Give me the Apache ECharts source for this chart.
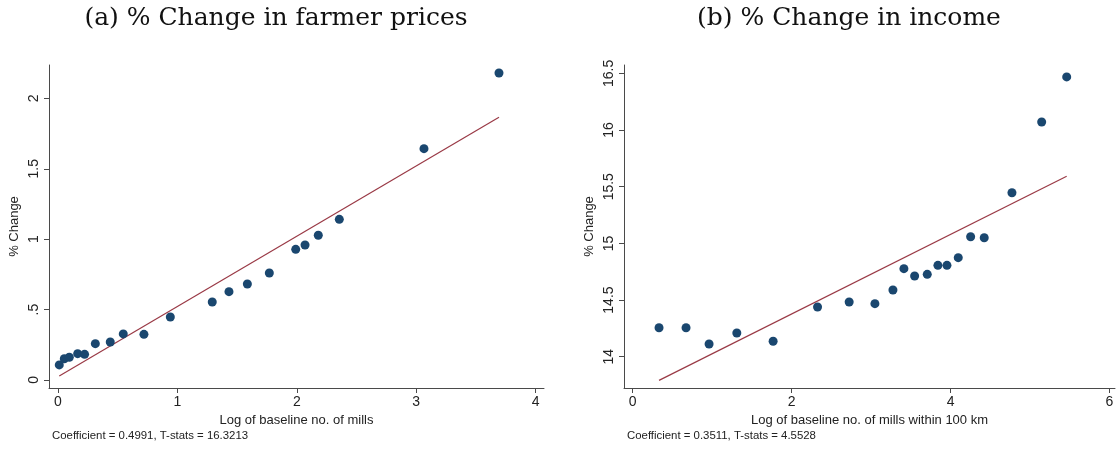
<!DOCTYPE html>
<html>
<head>
<meta charset="utf-8">
<script src="https://cdn.jsdelivr.net/npm/echarts@6/dist/echarts.min.js"></script>
<style>
  html, body { margin: 0; padding: 0; background: #fff; }
  #chart { width: 1117px; height: 451px; }
</style>
</head>
<body>
<div id="chart"></div>
<script>
// Panel (a): binned log of baseline mills vs % change in farmer prices
const pricesX = [0.011, 0.053, 0.095, 0.165, 0.223, 0.313, 0.438, 0.547, 0.720, 0.941,
                 1.292, 1.432, 1.586, 1.770, 1.991, 2.069, 2.180, 2.356, 3.065, 3.693];
const pricesY = [0.107, 0.151, 0.161, 0.187, 0.182, 0.258, 0.270, 0.327, 0.324, 0.447,
                 0.554, 0.627, 0.682, 0.760, 0.928, 0.959, 1.028, 1.141, 1.643, 2.180];
const pricesCoef = 0.4991;
const pricesTstat = 16.3213;
const pricesIntercept = 0.023;

// Panel (b): binned log of mills within 100 km vs % change in income
const incomeX = [0.331, 0.671, 0.961, 1.310, 1.767, 2.326, 2.724, 3.048, 3.275, 3.413,
                 3.548, 3.707, 3.841, 3.955, 4.097, 4.253, 4.424, 4.773, 5.147, 5.462];
const incomeY = [14.256, 14.256, 14.112, 14.209, 14.136, 14.439, 14.483, 14.468, 14.589, 14.777,
                 14.712, 14.727, 14.806, 14.806, 14.874, 15.059, 15.050, 15.447, 16.071, 16.469];
const incomeCoef = 0.3511;
const incomeTstat = 4.5528;
const incomeIntercept = 13.675;

// Tick positions
const pricesXTicks = [0, 1, 2, 3, 4];
const pricesYTicks = [0, 0.5, 1, 1.5, 2];
const incomeXTicks = [0, 2, 4, 6];
const incomeYTicks = [14, 14.5, 15, 15.5, 16, 16.5];

const titles = ['(a) % Change in farmer prices', '(b) % Change in income'];
const xTitles = ['Log of baseline no. of mills', 'Log of baseline no. of mills within 100 km'];
const yTitle = '% Change';

const navy = '#1a476f';
const maroon = '#9a3a46';
const axisColor = '#4a4a4a';
const textColor = '#222';

function zip(xs, ys) { return xs.map((x, i) => [x, ys[i]]); }
function fitLine(xs, a, b) {
  const lo = Math.min(...xs), hi = Math.max(...xs);
  return [[lo, a + b * lo], [hi, a + b * hi]];
}
// Stata-style labels: drop the leading zero (".5")
function stataNum(v) {
  let s = String(Math.round(v * 1000) / 1000);
  if (s.startsWith('0.')) s = s.slice(1);
  return s;
}

const chart = echarts.init(document.getElementById('chart'), null, { renderer: 'canvas' });

function xAxisDef(gridIndex, min, max, ticks, name) {
  return {
    type: 'value', gridIndex, min, max,
    name, nameLocation: 'middle', nameGap: 25,
    nameTextStyle: { fontFamily: 'Liberation Sans', fontSize: 13, color: textColor },
    axisLine: { onZero: false, lineStyle: { color: axisColor, width: 1 } },
    axisTick: { customValues: ticks, length: 5, lineStyle: { color: axisColor } },
    axisLabel: { customValues: ticks, formatter: stataNum, fontFamily: 'Liberation Sans',
                 fontSize: 14, color: textColor, margin: 7 },
    splitLine: { show: false }
  };
}
function yAxisDef(gridIndex, min, max, ticks) {
  return {
    type: 'value', gridIndex, min, max,
    name: yTitle, nameLocation: 'middle', nameGap: 28, nameRotate: 90,
    nameTextStyle: { fontFamily: 'Liberation Sans', fontSize: 13, color: textColor },
    axisLine: { show: true, onZero: false, lineStyle: { color: axisColor, width: 1 } },
    axisTick: { show: true, customValues: ticks, length: 5, lineStyle: { color: axisColor } },
    axisLabel: { customValues: ticks, formatter: stataNum, rotate: 90, fontFamily: 'Liberation Sans',
                 fontSize: 14, color: textColor, margin: 8 },
    splitLine: { show: false }
  };
}

const titleStyle = { fontFamily: 'DejaVu Serif', fontSize: 25, fontWeight: 'normal', color: '#111' };
const noteStyle = { fontFamily: 'Liberation Sans', fontSize: 11.4, fontWeight: 'normal', color: textColor };

chart.setOption({
  animation: false,
  backgroundColor: '#fff',
  title: [
    { text: titles[0], left: 276, top: 6, textAlign: 'center', padding: 0, textStyle: titleStyle },
    { text: titles[1], left: 849, top: 6, textAlign: 'center', padding: 0, textStyle: titleStyle },
    { text: 'Coefficient = ' + pricesCoef.toFixed(4) + ', T-stats = ' + pricesTstat.toFixed(4),
      left: 52, top: 430, padding: 0, textStyle: noteStyle },
    { text: 'Coefficient = ' + incomeCoef.toFixed(4) + ', T-stats = ' + incomeTstat.toFixed(4),
      left: 627, top: 430, padding: 0, textStyle: noteStyle }
  ],
  grid: [
    { left: 49, top: 65, width: 495, height: 323 },
    { left: 624, top: 65, width: 491, height: 323 }
  ],
  xAxis: [
    xAxisDef(0, -0.075, 4.07, pricesXTicks, xTitles[0]),
    xAxisDef(1, -0.11, 6.07, incomeXTicks, xTitles[1])
  ],
  yAxis: [
    yAxisDef(0, -0.057, 2.237, pricesYTicks),
    yAxisDef(1, 13.724, 16.574, incomeYTicks)
  ],
  series: [
    { type: 'line', xAxisIndex: 0, yAxisIndex: 0, data: fitLine(pricesX, pricesIntercept, pricesCoef),
      symbol: 'none', lineStyle: { color: maroon, width: 1.2 }, z: 2 },
    { type: 'scatter', xAxisIndex: 0, yAxisIndex: 0, data: zip(pricesX, pricesY),
      symbol: 'circle', symbolSize: 9, itemStyle: { color: navy, opacity: 1 }, z: 3 },
    { type: 'line', xAxisIndex: 1, yAxisIndex: 1, data: fitLine(incomeX, incomeIntercept, incomeCoef),
      symbol: 'none', lineStyle: { color: maroon, width: 1.2 }, z: 2 },
    { type: 'scatter', xAxisIndex: 1, yAxisIndex: 1, data: zip(incomeX, incomeY),
      symbol: 'circle', symbolSize: 9, itemStyle: { color: navy, opacity: 1 }, z: 3 }
  ]
});
</script>
</body>
</html>
